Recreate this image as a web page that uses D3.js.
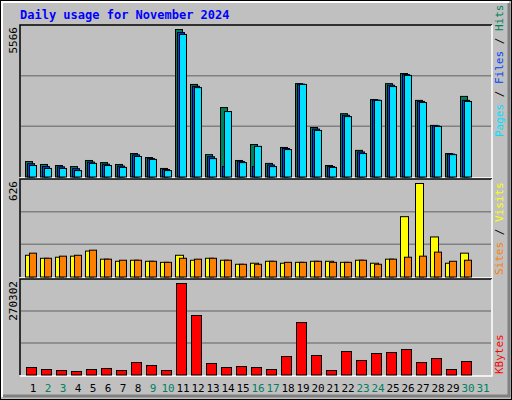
<!DOCTYPE html>
<html><head><meta charset="utf-8">
<script src="https://cdn.jsdelivr.net/npm/d3@7"></script>
<style>body{margin:0;background:#fff}</style>
</head><body><div id="chart"></div>
<script>
const days = d3.range(1, 32)
const weekend = [2, 3, 9, 10, 16, 17, 23, 24, 30, 31]
const hits  = [600,490,450,410,640,560,490,900,750,340,5566,3500,860,2630,640,1240,530,1130,3530,1880,450,2400,1020,2930,3530,3910,2900,1960,900,3050,0]
const files = [520,410,400,330,580,500,430,850,710,300,5450,3430,780,410,600,410,470,1090,3510,1820,410,2340,960,2910,3470,3870,2860,1940,880,2900,0]
const pages = [450,340,340,260,530,450,380,790,680,260,5380,3380,710,2480,560,1170,410,1050,3500,1770,380,2290,900,2900,3420,3840,2820,1920,860,2860,0]
const visits = [148,128,135,142,176,122,108,115,108,101,148,115,128,115,88,95,108,95,101,108,108,101,115,95,122,405,626,270,95,162,0]
const sites  = [162,128,142,148,182,122,115,115,108,101,128,122,128,115,88,88,108,101,101,108,101,101,115,88,122,135,142,169,108,115,0]
const kbytes = [23500,17600,14700,11800,17600,20600,14700,38200,29400,14700,270302,176300,35300,23500,26400,23500,17600,55800,155700,58800,14700,70500,44100,64600,67600,76400,38200,49900,17600,41100,0]
const maxTop = 5566, maxMid = 626, maxBot = 270302

const W = 512, H = 400
const svg = d3.select('#chart').append('svg').attr('width', W).attr('height', H)
.style('font-family', 'DejaVu Sans Mono, monospace')

// frame
svg.append('rect').attr('x', 0.5).attr('y', 0.5).attr('width', W - 1).attr('height', H - 1).attr('fill', '#c0c0c0').attr('stroke', '#000')
svg.append('path').attr('d', 'M2,397V2H509').attr('fill', 'none').attr('stroke', '#fff').attr('stroke-width', 2)
svg.append('path').attr('d', 'M3,396H509V3').attr('fill', 'none').attr('stroke', '#808080').attr('stroke-width', 3)

svg.append('text').attr('x', 20).attr('y', 19).text('Daily usage for November 2024')
.attr('fill', '#0000ff').attr('font-weight', 'bold').attr('font-size', 12)

const x = d3.scaleLinear().domain([1, 31]).range([33, 483])

const panels = [
	{ y0: 25, y1: 177, max: maxTop, label: '5566' },
	{ y0: 179, y1: 277, max: maxMid, label: '626' },
	{ y0: 279, y1: 375, max: maxBot, label: '270302' }
]

panels.forEach(p => {
	svg.append('rect').attr('x', 20).attr('y', p.y0).attr('width', 472).attr('height', p.y1 - p.y0)
	.attr('fill', '#c0c0c0')
	svg.append('path').attr('d', `M20,${p.y1}V${p.y0}H492`).attr('fill', 'none').attr('stroke', '#000').attr('stroke-width', 1.5)
	svg.append('path').attr('d', `M20,${p.y1 + 1}H492V${p.y0}`).attr('fill', 'none').attr('stroke', '#fff').attr('stroke-width', 1.5)
	const h = (p.y1 - p.y0) / 3
	;[1, 2].forEach(i => svg.append('line').attr('x1', 21).attr('x2', 491)
		.attr('y1', p.y0 + h * i).attr('y2', p.y0 + h * i).attr('stroke', '#808080').attr('stroke-width', 1.5))
	svg.append('text').attr('transform', `translate(17,${p.y0 + 2}) rotate(-90)`).attr('text-anchor', 'end')
	.attr('font-size', 11).text(p.label)
	p.scale = d3.scaleLinear().domain([0, p.max]).range([p.y1, p.y0 + 4])
})

function bars(data, panel, dx, w, color) {
	svg.append('g').selectAll('rect').data(data.map((v, i) => [days[i], v]).filter(d => d[1] > 0))
	.join('rect')
	.attr('x', d => x(d[0]) + dx + 0.5)
	.attr('y', d => panel.scale(d[1]) + 0.5)
	.attr('width', w)
	.attr('height', d => panel.y1 - panel.scale(d[1]) - 0.5)
	.attr('fill', color).attr('stroke', '#000').attr('stroke-width', 1)
}

bars(hits, panels[0], -8, 7, '#00805c')
bars(files, panels[0], -6, 7, '#0040ff')
bars(pages, panels[0], -4, 7, '#00e0ff')
bars(visits, panels[1], -8, 8, '#ffff00')
bars(sites, panels[1], -4, 7, '#ff8000')
bars(kbytes, panels[2], -7, 10, '#ff0000')

svg.append('g').selectAll('text').data(days).join('text')
.attr('x', d => x(d)).attr('y', 392).attr('text-anchor', 'middle').attr('font-size', 11)
.attr('fill', d => weekend.includes(d) ? '#008060' : '#000').text(d => d)

function sideLabel(y, parts) {
	const t = svg.append('text').attr('transform', `translate(503,${y}) rotate(-90)`).attr('font-size', 11)
	parts.forEach(p => t.append('tspan').attr('fill', p[1]).text(p[0]))
}
sideLabel(137, [['Pages', '#00e0ff'], [' / ', '#000'], ['Files', '#0040ff'], [' / ', '#000'], ['Hits', '#00805c']])
sideLabel(275, [['Sites', '#ff8000'], [' / ', '#000'], ['Visits', '#ffff00']])
sideLabel(374, [['KBytes', '#ff0000']])
</script></body></html>
